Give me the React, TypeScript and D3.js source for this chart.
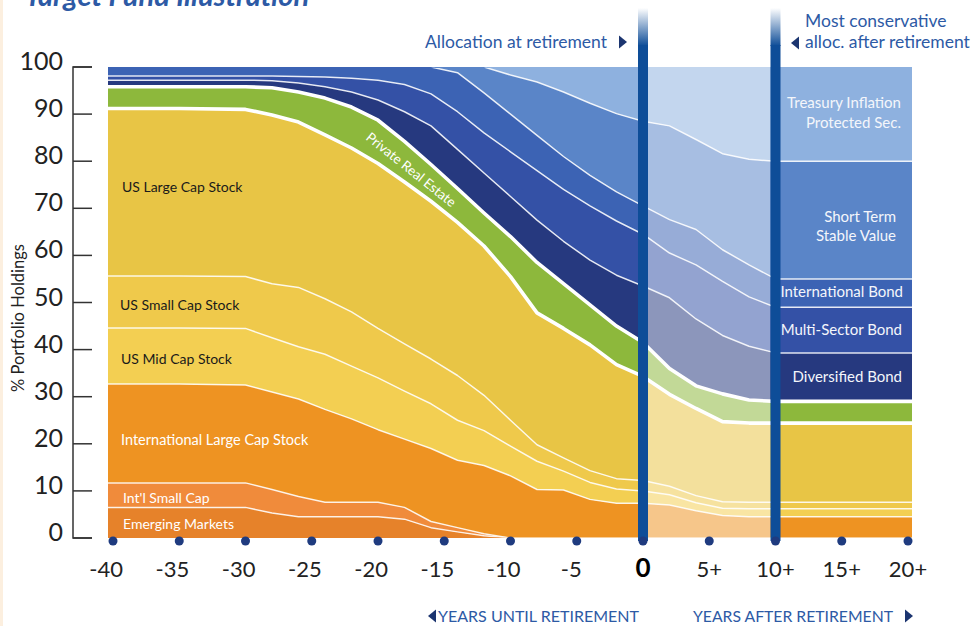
import React from "react";
import * as d3 from "d3";

// years relative to retirement (negative = before)
const years = [-40, -35, -30, -28, -26, -24, -22, -20, -18, -16, -14, -12, -10, -8, -6, -4, -2, 0, 2, 4, 6, 8, 10, 15, 20];

const xTickYears = [-40, -35, -30, -25, -20, -15, -10, -5, 0, 5, 10, 15, 20];
const xTickLabels = ["-40", "-35", "-30", "-25", "-20", "-15", "-10", "-5", "0", "5+", "10+", "15+", "20+"];
const yTicks = [0, 10, 20, 30, 40, 50, 60, 70, 80, 90, 100];

// % of portfolio held in each fund, per year
const emergingMarkets = [6.5, 6.5, 6.5, 5.3, 4.5, 4.5, 4.5, 4.5, 4.0, 2.2, 1.3, 0.5, 0, 0, 0, 0, 0, 0, 0, 0, 0, 0, 0, 0, 0];
const intlSmallCap = [5.2, 5.2, 5.2, 5.0, 4.3, 3.1, 3.1, 3.1, 2.5, 1.3, 0.9, 0.4, 0, 0, 0, 0, 0, 0, 0, 0, 0, 0, 0, 0, 0];
const intlLargeCap = [21.0, 21.0, 20.8, 20.7, 20.7, 19.7, 17.7, 15.4, 14.5, 15.5, 14.3, 14.5, 13.2, 10.3, 10.2, 8.2, 7.4, 7.4, 7.0, 5.8, 4.8, 4.5, 4.5, 4.5, 4.5];
const usMidCap = [11.9, 11.9, 12.0, 11.5, 11.1, 11.7, 11.2, 11.0, 10.2, 9.5, 8.5, 7.4, 6.3, 6.0, 4.0, 3.6, 3.0, 2.6, 2.2, 1.7, 1.5, 1.7, 1.7, 1.7, 1.7];
const usSmallCap = [11.0, 11.0, 11.0, 11.5, 12.6, 11.8, 11.5, 10.5, 10.0, 9.5, 9.5, 7.5, 5.5, 3.5, 2.8, 2.5, 2.2, 2.2, 1.8, 1.5, 1.4, 1.4, 1.4, 1.4, 1.4];
const usLargeCap = [35.6, 35.6, 35.5, 35.8, 35.1, 34.8, 34.8, 35.0, 34.4, 33.5, 32.5, 31.7, 30.5, 28.0, 27.5, 26.7, 24.2, 22.1, 19.5, 18.5, 17.0, 16.8, 16.8, 16.8, 16.8];
const privateRealEstate = [4.6, 4.6, 4.8, 5.8, 6.4, 7.8, 8.7, 9.2, 8.6, 7.8, 7.2, 7.0, 8.5, 10.7, 9.5, 8.5, 8.2, 7.2, 5.5, 4.8, 5.9, 4.9, 4.6, 4.6, 4.6];
const diversifiedBond = [1.4, 1.4, 1.4, 1.5, 1.9, 2.4, 3.2, 4.3, 6.3, 8.2, 8.3, 8.5, 8.5, 9.0, 9.0, 9.5, 10.8, 12.0, 15.0, 14.2, 12.4, 11.4, 10.3, 10.3, 10.3];
const multiSectorBond = [0.9, 0.9, 0.9, 1.0, 1.4, 2.1, 2.9, 4.2, 5.8, 6.8, 8.0, 8.5, 9.5, 10.5, 11.0, 11.5, 11.5, 11.0, 9.5, 11.5, 11.5, 10.5, 9.7, 9.7, 9.7];
const intlBond = [1.9, 1.9, 1.9, 1.9, 2.0, 2.1, 2.4, 2.8, 3.7, 5.7, 8.3, 8.5, 8.0, 7.5, 7.0, 6.5, 6.2, 6.0, 7.1, 7.5, 6.7, 6.8, 6.0, 6.0, 6.0];
const shortTermStable = [0, 0, 0, 0, 0, 0, 0, 0, 0, 0, 1.2, 5.5, 8.3, 11.3, 13.7, 15.3, 16.6, 18.0, 19.9, 19.1, 20.4, 22.4, 25.0, 25.0, 25.0];
const tips = [0, 0, 0, 0, 0, 0, 0, 0, 0, 0, 0, 0, 1.7, 3.2, 5.3, 7.7, 9.9, 11.5, 12.5, 15.4, 18.4, 19.6, 20.0, 20.0, 20.0];

const fundKeys = ["em", "isc", "ilc", "mid", "small", "large", "pre", "div", "multi", "intl", "st", "tips"];
const fundSeries: Record<string, number[]> = {
  em: emergingMarkets,
  isc: intlSmallCap,
  ilc: intlLargeCap,
  mid: usMidCap,
  small: usSmallCap,
  large: usLargeCap,
  pre: privateRealEstate,
  div: diversifiedBond,
  multi: multiSectorBond,
  intl: intlBond,
  st: shortTermStable,
  tips: tips,
};
const fundColors: Record<string, string> = {
  em: "#e6822a",
  isc: "#f08b3b",
  ilc: "#ee9322",
  mid: "#f3cf52",
  small: "#efc94b",
  large: "#e8c545",
  pre: "#8db83c",
  div: "#26397f",
  multi: "#3451a6",
  intl: "#3c63b4",
  st: "#5a85c8",
  tips: "#8eb1df",
};

const W = 971;
const H = 626;
const blue = "#2d5aa5";
const barBlue = "#0e4d98";
const font = "Lato, 'Open Sans', sans-serif";

export default function App() {
  const x = d3.scaleLinear().domain([-40, 20]).range([113, 908]);
  const y = d3.scaleLinear().domain([0, 100]).range([538, 67]);

  const rows = years.map((yr, i) => {
    const r: any = { year: yr };
    fundKeys.forEach(k => (r[k] = fundSeries[k][i]));
    return r;
  });
  const stacked = d3.stack().keys(fundKeys)(rows);
  const last = years.length - 1;

  // stretch the fill slightly past the end dots like the original
  const xa = (d: any, i: number) =>
    i === 0 ? x(d.data.year) - 5 : i === last ? x(d.data.year) + 4 : x(d.data.year);

  const area = d3.area<any>().x(xa).y0(d => y(d[0])).y1(d => y(d[1]));
  const line = d3.line<any>().x(xa).y(d => y(d[1]));

  const x0 = x(0);
  const x10 = x(10);

  const arrowR = (ax: number, ay: number) => `M${ax},${ay - 6.5} L${ax + 8},${ay} L${ax},${ay + 6.5} Z`;
  const arrowL = (ax: number, ay: number) => `M${ax},${ay - 6.5} L${ax - 8},${ay} L${ax},${ay + 6.5} Z`;

  return (
    <div style={{ position: "absolute", left: 0, top: 0 }}>
      <svg width={W} height={H} style={{ display: "block", background: "#fff" }}>
        <defs>
          <clipPath id="plotClip">
            <rect x={100} y={68} width={820} height={469.5} />
          </clipPath>
          <linearGradient id="barFade" x1="0" y1="8" x2="0" y2="46" gradientUnits="userSpaceOnUse">
            <stop offset="0" stopColor="#ffffff" />
            <stop offset="1" stopColor={barBlue} />
          </linearGradient>
        </defs>

        <rect x={0} y={0} width={3} height={H} fill="#fcefdf" />

        <text x={25} y={6} fontFamily={font} fontSize={29} fontWeight={700} fontStyle="italic" fill={blue}>
          Target Fund Illustration
        </text>

        {/* stacked areas */}
        <g>
          {stacked.map(s => (
            <path key={s.key} d={area(s as any) || ""} fill={fundColors[s.key]} />
          ))}
        </g>

        {/* white separators */}
        <g clipPath="url(#plotClip)" fill="none" stroke="#fff" strokeLinejoin="round">
          {stacked.slice(0, -1).map(s => (
            <path
              key={s.key}
              d={line(s as any) || ""}
              strokeWidth={s.key === "large" || s.key === "pre" ? 3.6 : 1.5}
              strokeOpacity={s.key === "large" || s.key === "pre" ? 1 : 0.85}
            />
          ))}
        </g>

        {/* faded band between retirement and the most conservative allocation */}
        <rect x={x0 + 5} y={y(100)} width={x10 - x0 - 10} height={y(0) - y(100)} fill="#fff" fillOpacity={0.47} />

        {/* y axis */}
        <g fontFamily={font} fontSize={25} fill="#222">
          <path d={`M92,${y(100)} H73 V${y(0)} H92`} fill="none" stroke="#333" strokeWidth={1.5} />
          {yTicks.map(t => (
            <g key={t}>
              <line x1={73} x2={92} y1={y(t)} y2={y(t)} stroke="#333" strokeWidth={1.5} />
              <text x={63} y={y(t) + 3} textAnchor="end">{t}</text>
            </g>
          ))}
        </g>
        <text
          transform={`translate(24,318) rotate(-90)`}
          textAnchor="middle"
          fontFamily={font}
          fontSize={16.5}
          fill="#222"
        >
          % Portfolio Holdings
        </text>

        {/* vertical markers */}
        {[x0, x10].map((bx, i) => (
          <g key={i}>
            <rect x={bx - 5} y={8} width={10} height={38} fill="url(#barFade)" />
            <rect x={bx - 5} y={45} width={10} height={496} fill={barBlue} />
          </g>
        ))}

        {/* x axis dots and labels */}
        <g fontFamily={font} fontSize={22} fill="#222">
          {xTickYears.map((t, i) => (
            <g key={t}>
              <circle cx={x(t)} cy={541} r={4.5} fill="#1f3b7f" />
              {t === 0 ? (
                <text x={x(t)} y={577} fontSize={26} fontWeight={700} fill="#000" textAnchor="middle">
                  {xTickLabels[i]}
                </text>
              ) : t < 0 ? (
                <text x={x(t) + (t <= -10 ? 10 : 5)} y={577} textAnchor="end">{xTickLabels[i]}</text>
              ) : (
                <text x={x(t)} y={577} textAnchor="middle">{xTickLabels[i]}</text>
              )}
            </g>
          ))}
        </g>

        {/* fund labels, left */}
        <g fontFamily={font} fontSize={14}>
          <text x={122} y={192} fill="#1a1a1a">US Large Cap Stock</text>
          <text x={120} y={310} fill="#1a1a1a">US Small Cap Stock</text>
          <text x={121} y={364} fill="#1a1a1a">US Mid Cap Stock</text>
          <text x={121} y={445} fill="#fff" fontSize={14.5}>International Large Cap Stock</text>
          <text x={123} y={503} fill="#fff">Int'l Small Cap</text>
          <text x={123} y={529} fill="#fff">Emerging Markets</text>
          <text transform="translate(365,139) rotate(38.5)" fill="#fff" fontSize={13.5}>Private Real Estate</text>
        </g>

        {/* fund labels, right */}
        <g fontFamily={font} fontSize={15} fill="#f4f6fb" textAnchor="end">
          <text x={901} y={108}>Treasury Inflation</text>
          <text x={901} y={128}>Protected Sec.</text>
          <text x={896} y={222}>Short Term</text>
          <text x={896} y={241}>Stable Value</text>
          <text x={903} y={297}>International Bond</text>
          <text x={902} y={335}>Multi-Sector Bond</text>
          <text x={902} y={382}>Diversified Bond</text>
        </g>

        {/* annotations */}
        <g fontFamily={font} fontSize={17.5} fill={blue}>
          <text x={607} y={48} textAnchor="end">Allocation at retirement</text>
          <path d={arrowR(619, 42)} fill="#1c3570" />
          <text x={805} y={27}>Most conservative</text>
          <text x={805} y={48}>alloc. after retirement</text>
          <path d={arrowL(799, 43)} fill="#1c3570" />
          <text x={438} y={622} fontSize={16} textLength={201} lengthAdjust="spacingAndGlyphs">YEARS UNTIL RETIREMENT</text>
          <path d={arrowL(436, 616)} fill="#1c3570" />
          <text x={693} y={622} fontSize={16} textLength={200} lengthAdjust="spacingAndGlyphs">YEARS AFTER RETIREMENT</text>
          <path d={arrowR(905, 616)} fill="#1c3570" />
        </g>
      </svg>
    </div>
  );
}
